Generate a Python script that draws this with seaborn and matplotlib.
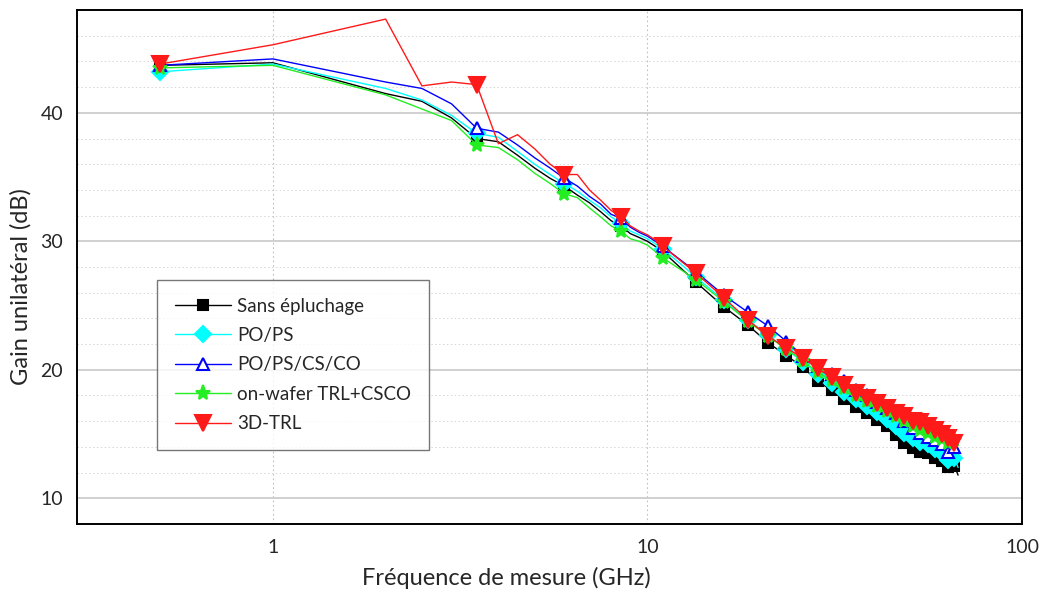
import pandas as pd
import matplotlib
matplotlib.use('Agg')
import matplotlib.pyplot as plt
import seaborn as sns
from matplotlib.ticker import MultipleLocator, LogLocator, NullFormatter, FixedLocator, FixedFormatter

# fréquences (GHz)
freq = [0.5, 1, 2, 2.5, 3, 3.5, 4, 4.5, 5, 5.5, 6, 6.5, 7, 7.5, 8, 8.5, 9, 9.5, 10, 10.5, 11,
        13.5, 16, 18.5, 21, 23.5, 26, 28.5, 31, 33.5, 36, 38.5, 41, 43.5, 46, 48.5, 51, 53.5,
        56, 58.5, 61, 63.5, 66, 67.5]
mark_freq = [0.5, 3.5, 6, 8.5, 11, 13.5, 16, 18.5, 21, 23.5, 26, 28.5, 31, 33.5, 36, 38.5, 41,
             43.5, 46, 48.5, 51, 53.5, 56, 58.5, 61, 63.5, 66]

sans_epluchage = [43.7, 43.9, 41.5, 40.9, 39.6, 38.0, 37.75, 36.7, 35.7, 34.9, 34.3, 33.6, 33.0, 32.3,
                  31.6, 31.2, 30.6, 30.3, 30.0, 29.6, 29.2,
                  26.8, 24.9, 23.5, 22.1, 21.1, 20.2, 19.1, 18.4, 17.7, 17.1, 16.6, 16.1, 15.6, 14.9,
                  14.3, 13.9, 13.6, 13.5, 13.1, 12.9, 12.4, 12.5, 11.8]
po_ps = [43.2, 43.8, 41.9, 41.0, 39.8, 38.4, 38.1, 37.0, 36.0, 35.2, 34.5, 33.9, 33.2, 32.6,
         31.9, 31.4, 30.8, 30.5, 30.2, 29.8, 29.4,
         27.2, 25.4, 23.9, 22.7, 21.6, 20.6, 19.7, 19.0, 18.3, 17.7, 17.2, 16.7, 16.2, 15.6,
         15.1, 14.7, 14.4, 14.2, 13.8, 13.5, 13.0, 13.1, 12.4]
po_ps_cs_co = [43.7, 44.2, 42.4, 41.9, 40.7, 38.8, 38.5, 37.5, 36.5, 35.7, 34.9, 34.3, 33.5, 32.9,
               32.1, 31.8, 31.1, 30.7, 30.4, 30.0, 29.6,
               27.6, 25.8, 24.5, 23.4, 22.2, 21.1, 20.3, 19.7, 19.1, 18.4, 18.0, 17.5, 17.0, 16.6,
               16.0, 15.5, 15.1, 14.8, 14.5, 14.2, 13.6, 14.0, 14.2]
trl_csco = [43.5, 43.7, 41.4, 40.3, 39.4, 37.5, 37.3, 36.35, 35.3, 34.5, 33.7, 33.4, 32.6, 31.9,
            31.2, 30.8, 30.2, 30.0, 29.7, 29.2, 28.7,
            27.0, 25.3, 23.8, 22.6, 21.6, 20.7, 19.8, 19.2, 18.6, 18.0, 17.6, 17.2, 16.8, 16.4,
            16.0, 15.6, 15.3, 15.1, 14.8, 14.6, 14.3, 14.5, 14.6]
trl_3d = [43.8, 45.3, 47.3, 42.1, 42.4, 42.2, 37.6, 38.3, 37.2, 36.0, 35.2, 35.2, 34.0, 33.2,
          32.4, 31.9, 31.2, 30.8, 30.5, 30.1, 29.6,
          27.5, 25.6, 23.9, 22.6, 21.7, 20.9, 20.1, 19.4, 18.8, 18.2, 17.8, 17.4, 17.0, 16.6,
          16.4, 16.0, 15.9, 15.6, 15.3, 15.0, 14.7, 14.3, 14.6]

labels = ['Sans épluchage', 'PO/PS', 'PO/PS/CS/CO', 'on-wafer TRL+CSCO', '3D-TRL']
series = [sans_epluchage, po_ps, po_ps_cs_co, trl_csco, trl_3d]
colors = ['black', '#00ffff', '#0000ff', '#22ee22', '#ff1a1a']
markers = ['s', 'D', '^', '*', 'v']
msizes = [7, 8, 9, 11, 11]

sns.set_theme(style='white')
plt.rcParams['font.family'] = ['Lato', 'DejaVu Sans']

fig = plt.figure(figsize=(10.46, 5.94), dpi=100)
ax = fig.add_axes([0.0736, 0.118, 0.9035, 0.865])

mark_idx = [i for i, f in enumerate(freq) if f in mark_freq]

for lab, vals, c, m, ms in zip(labels, series, colors, markers, msizes):
    df = pd.DataFrame({'freq': freq, 'gain': vals})
    mfc = 'white' if m == '^' else c
    sns.lineplot(data=df, x='freq', y='gain', ax=ax, label=lab, color=c, marker=m,
                 markersize=ms, markerfacecolor=mfc, markeredgecolor=c, markeredgewidth=1.5,
                 linewidth=1.0, markevery=mark_idx)

ax.set_xscale('log')
ax.set_xlim(0.3, 100)
ax.set_ylim(8, 48)

ax.xaxis.set_major_locator(FixedLocator([1, 10, 100]))
ax.xaxis.set_major_formatter(FixedFormatter(['1', '10', '100']))
ax.xaxis.set_minor_locator(LogLocator(base=10, subs=range(2, 10)))
ax.xaxis.set_minor_formatter(NullFormatter())
ax.yaxis.set_major_locator(MultipleLocator(10))
ax.yaxis.set_minor_locator(MultipleLocator(2))

ax.grid(axis='y', which='major', color='#c8c8c8', linestyle='-', linewidth=1.2)
ax.grid(axis='y', which='minor', color='#d6d6d6', linestyle=(0, (1.5, 2.5)), linewidth=0.7)
ax.grid(axis='x', which='major', color='#c0c0c0', linestyle=(0, (1.5, 2.5)), linewidth=0.8)
ax.set_axisbelow(True)

ax.tick_params(axis='both', which='major', direction='in', length=7, width=1.2,
               labelsize=14, color='black', pad=10, top=False, right=False)
ax.tick_params(axis='both', which='minor', direction='in', length=4, width=1.0,
               color='black', top=False, right=False)
ax.tick_params(axis='x', which='major', pad=11)

for s in ax.spines.values():
    s.set_color('black')
    s.set_linewidth(1.4)

ax.set_xlabel('Fréquence de mesure (GHz)', fontsize=17)
ax.set_ylabel('Gain unilatéral (dB)', fontsize=17)
ax.xaxis.set_label_coords(0.454, -0.083)
ax.yaxis.set_label_coords(-0.048, 0.461)

leg = ax.legend(loc='upper left', bbox_to_anchor=(0.085, 0.475), fontsize=13.5,
                frameon=True, fancybox=False, handlelength=3.0, borderpad=0.95,
                labelspacing=0.66, handletextpad=0.3, borderaxespad=0)
leg.get_frame().set_edgecolor('#555555')
leg.get_frame().set_linewidth(1.0)

fig.savefig('out.png', dpi=100)
